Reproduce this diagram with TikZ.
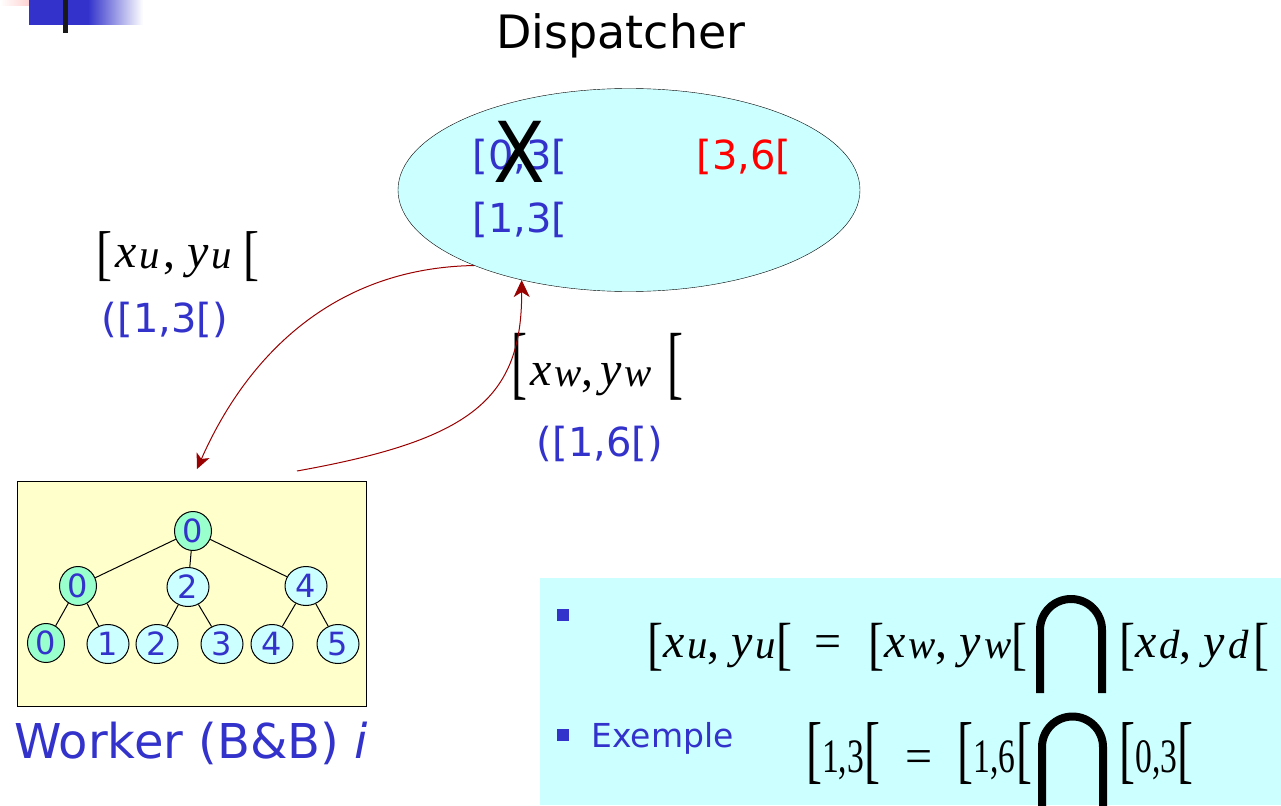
\documentclass[tikz,border=0pt]{standalone}
\usepackage{fontspec}
\setmainfont{Liberation Serif}
\newfontfamily\tahoma{DejaVu Sans}
\usepackage{graphicx}
\usetikzlibrary{shapes.geometric,arrows.meta,positioning}
\definecolor{dblue}{RGB}{51,51,204}
\definecolor{dred}{RGB}{153,0,0}
\definecolor{pcyan}{RGB}{204,255,255}
\definecolor{pyellow}{RGB}{255,255,204}
\definecolor{pgreen}{RGB}{153,255,204}
\definecolor{ppink}{RGB}{255,176,176}
% tall bracket: height, depth
\newcommand{\sqb}[2]{\raisebox{-#2}{\resizebox*{.333em}{#1}{\raisebox{\depth}{[}}}}
% variable with index
\newcommand{\vsub}[2]{\textit{#1}\kern.06em\raisebox{-.04em}{\scalebox{.85}{\textit{#2}}}}

\begin{document}
\begin{tikzpicture}[x=1pt,y=-1pt,
  sans/.style={font=\tahoma\fontsize{#1}{#1}\selectfont},
  serif/.style={font=\fontsize{#1}{#1}\selectfont},
  tnode/.style={ellipse,draw,line width=1pt,fill=pcyan,inner sep=0pt,
    minimum width=42pt,minimum height=39pt,text=dblue,sans=32},
  gnode/.style={tnode,fill=pgreen,minimum width=37pt},
  link/.style={draw=dred,line width=1pt},
  bigcap/.style={line width=8pt,black}]
  \useasboundingbox (0,0) rectangle (1281,805);

  % Corner mark
  \shade[left color=white,right color=ppink] (0,0) rectangle (52,6);
  \fill[dblue] (29,0) rectangle (88,25);
  \shade[left color=dblue,right color=white] (88,0) rectangle (143,25);
  \fill[black!90] (63,0) rectangle (68,33);

  % Dispatcher
  \node[sans=46] (dtitle) at (621,36) {Dispatcher};
  \node[ellipse,draw,fill=pcyan,minimum width=462pt,minimum height=203pt]
    (disp) at (629,190) {};
  \node[sans=40,text=dblue] (r03) at (520,157) {[0,3[};
  \node[sans=40,text=red] (r36) at (744,157) {[3,6[};
  \node[sans=40,text=dblue] (r13) at (520,220) {[1,3[};
  \node[sans=84] (xmark) at (519,152) {\scalebox{0.9}[1]{X}};

  % Interval labels
  \node[serif=48,anchor=base west,inner sep=0pt] (lu) at (96,267)
    {\sqb{50pt}{15pt}\hspace{3pt}\vsub{x}{u}\hspace{4pt}, \vsub{y}{u}\hspace{11pt}\sqb{50pt}{15pt}};
  \node[sans=40,text=dblue] (lur) at (165,320) {([1,3[)};
  \node[serif=48,anchor=base west,inner sep=0pt] (lw) at (511,385)
    {\sqb{67pt}{15pt}\hspace{3pt}\vsub{x}{w}, \hspace{-5pt}\vsub{y}{w}\hspace{15pt}\sqb{67pt}{15pt}};
  \node[sans=40,text=dblue] (lwr) at (600,444) {([1,6[)};

  % Worker
  \node[draw,line width=1pt,fill=pyellow,minimum width=349pt,minimum height=225pt]
    (worker) at (191.5,594) {};
  \node[gnode,minimum width=37pt] (t0) at (193,531) {0};
  \node[gnode] (t10) at (78,586) {0};
  \node[tnode] (t12) at (188,587) {2};
  \node[tnode] (t14) at (306,586) {4};
  \node[gnode] (t20) at (46,643) {0};
  \node[tnode] (t21) at (108,644) {1};
  \node[tnode] (t22) at (157,644) {2};
  \node[tnode] (t23) at (222,644) {3};
  \node[tnode] (t24) at (272,644) {4};
  \node[tnode] (t25) at (338,644) {5};
  \foreach \a/\b in {t0/t10,t0/t12,t0/t14,t10/t20,t10/t21,t12/t22,t12/t23,
    t14/t24,t14/t25}
    \draw[line width=1pt] (\a) -- (\b);
  \node[sans=48,text=dblue] (wtitle) at (191,743) {Worker (B\&B) \textit{i}};

  % Exchanges
  \coordinate (wkin) at (197,469);
  \coordinate (wkout) at (297,471);
  \draw[link,-{Stealth[length=15pt,width=14pt,inset=4pt]}]
    (disp.206) .. controls (330,268) and (245,360) .. (wkin);
  \draw[link,-{Stealth[length=17pt,width=16pt,inset=5pt]}]
    (wkout) .. controls (470,440) and (522,400) .. (disp.220);

  % Rule
  \fill[pcyan] (540,578) rectangle (1281,805);
  \fill[dblue] (557,609) rectangle (569,621);
  \fill[dblue] (557,729) rectangle (569,741);
  \node[serif=48,anchor=base west,inner sep=0pt] (rule1) at (647,657)
    {\sqb{48pt}{14pt}\vsub{x}{u}, \vsub{y}{u}\sqb{48pt}{14pt}\hspace{22pt}=%
     \hspace{27pt}\sqb{48pt}{14pt}\vsub{x}{w}, \vsub{y}{w}\sqb{48pt}{14pt}};
  \draw[bigcap] (1040,693) -- (1040,630) arc[start angle=180,end angle=360,radius=31]
    -- (1102,693);
  \node[serif=48,anchor=base west,inner sep=0pt] (rule1d) at (1119,657)
    {\sqb{48pt}{14pt}\vsub{x}{d}, \vsub{y}{d}\hspace{5pt}\sqb{48pt}{14pt}};
  \node[sans=33,text=dblue,anchor=base west] (ex) at (588,747) {Exemple};
  \node[serif=48,anchor=base west,inner sep=0pt] (rule2) at (806,772)
    {\sqb{62pt}{13pt}\scalebox{.7}[1]{1,3}\sqb{62pt}{13pt}\hspace{25pt}=%
     \hspace{25pt}\sqb{62pt}{13pt}\scalebox{.7}[1]{1,6}\hspace{1pt}\sqb{62pt}{13pt}};
  \draw[bigcap] (1042,812) -- (1042,747) arc[start angle=180,end angle=360,radius=30.5]
    -- (1103,812);
  \node[serif=48,anchor=base west,inner sep=0pt] (rule2d) at (1119,772)
    {\sqb{62pt}{13pt}\scalebox{.7}[1]{0,3}\sqb{62pt}{13pt}};
\end{tikzpicture}
\end{document}
